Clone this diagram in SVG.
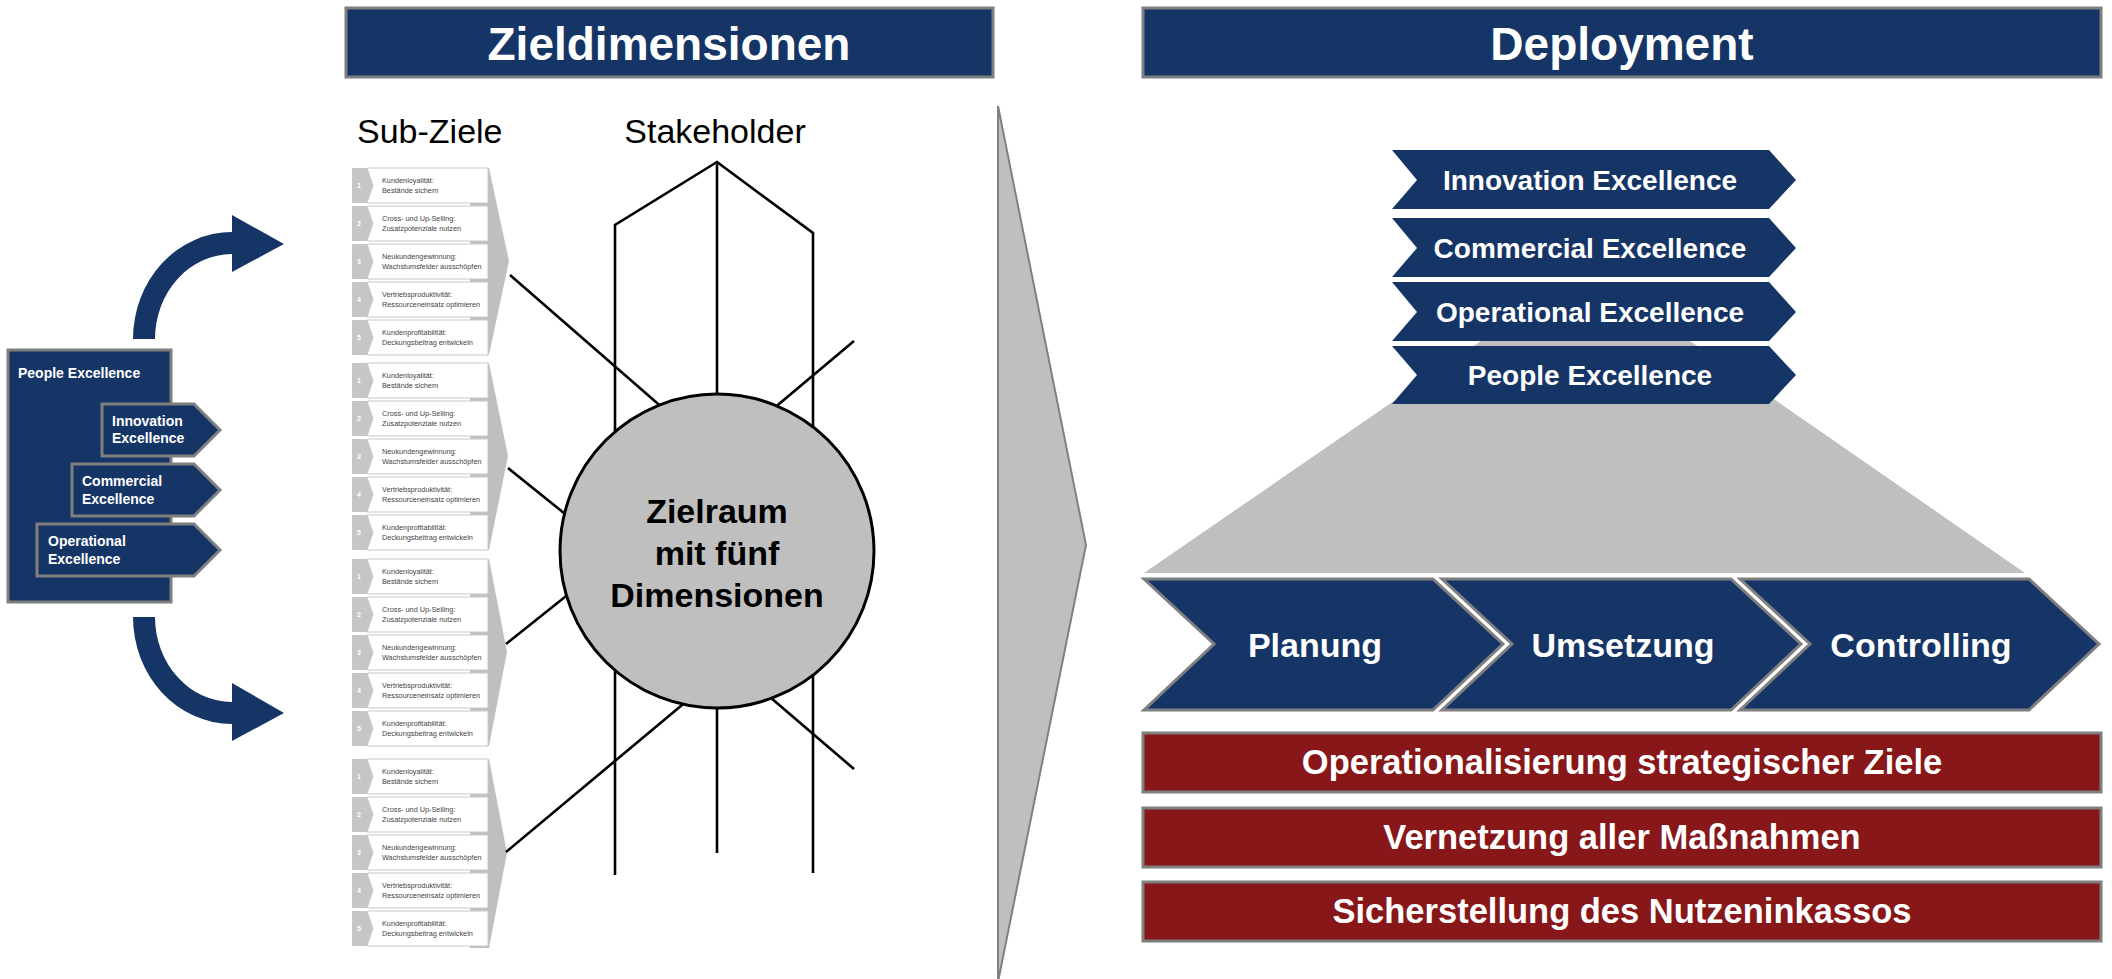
<svg xmlns="http://www.w3.org/2000/svg" width="2112" height="979" viewBox="0 0 2112 979">
<style>
.navy{fill:#163567;stroke:#7f7f7f;stroke-width:3}
.navyn{fill:#163567}
.red{fill:#871719;stroke:#7f7f7f;stroke-width:3}
.gray{fill:#bfbfbf}
.t{font-family:"Liberation Sans",Arial,sans-serif}
.wb{font-family:"Liberation Sans",Arial,sans-serif;font-weight:bold;fill:#fff}
.hd{font-size:46px;text-anchor:middle}
.ch{font-size:28px;text-anchor:middle}
.pr{font-size:34px;text-anchor:middle}
.rb{font-size:34.5px;text-anchor:middle}
.sm{font-size:14px}
.ln{stroke:#000;stroke-width:2.6;fill:none}
.tab{fill:#c6c6c6}
.row{fill:#fff;stroke:#c8c8c8;stroke-width:1}
.rt{font-family:"Liberation Sans",Arial,sans-serif;font-size:7.3px;fill:#444}
.num{font-family:"Liberation Sans",Arial,sans-serif;font-size:7px;fill:#fff;font-weight:bold;text-anchor:middle}
</style>

<!-- Headers -->
<g id="header-zieldimensionen">
<rect class="navy" x="346" y="8" width="647" height="69"/>
<text class="wb hd" x="669" y="60">Zieldimensionen</text>
</g>
<g id="header-deployment">
<rect class="navy" x="1143" y="8" width="958" height="69"/>
<text class="wb hd" x="1622" y="60">Deployment</text>
</g>

<!-- Left: People Excellence box with curved arrows -->
<g id="arrow-up">
<path class="navyn" d="M133,339 A99,107 0 0 1 232,232 L232,215 L284,244 L232,272 L232,254 A77,85 0 0 0 155,339 Z"/>
</g>
<g id="arrow-down">
<path class="navyn" d="M133,617 A99,107 0 0 0 232,724 L232,741 L284,713 L232,683 L232,702 A77,85 0 0 1 155,617 Z"/>
</g>
<g id="people-excellence-box">
<rect class="navy" x="8" y="350" width="163" height="252"/>
<text class="wb sm" x="18" y="378">People Excellence</text>
</g>
<g id="left-innovation">
<polygon class="navy" points="102,404 194,404 220,430 194,456 102,456"/>
<text class="wb sm" x="112" y="426">Innovation</text>
<text class="wb sm" x="112" y="443">Excellence</text>
</g>
<g id="left-commercial">
<polygon class="navy" points="72,464 194,464 220,490 194,516 72,516"/>
<text class="wb sm" x="82" y="486">Commercial</text>
<text class="wb sm" x="82" y="504">Excellence</text>
</g>
<g id="left-operational">
<polygon class="navy" points="37,524 194,524 220,550 194,576 37,576"/>
<text class="wb sm" x="48" y="546">Operational</text>
<text class="wb sm" x="48" y="564">Excellence</text>
</g>

<!-- Sub-Ziele / Stakeholder labels -->
<text class="t" x="357" y="143" font-size="34">Sub-Ziele</text>
<text class="t" x="715" y="143" font-size="34" text-anchor="middle">Stakeholder</text>

<!-- Sub-Ziele blocks -->
<g id="subziele-1">
<polygon class="gray" points="470,168 489,168 509,261 489,355 470,355"/>
<polygon class="tab" points="352,168 367,168 373,185.5 367,203 352,203"/>
<polygon class="row" points="367,168 488,168 488,203 367,203 373,185.5"/>
<text class="num" x="359" y="188">1</text>
<text class="rt" x="382" y="183">Kundenloyalität:</text><text class="rt" x="382" y="193">Bestände sichern</text>
<polygon class="tab" points="352,206 367,206 373,223.5 367,241 352,241"/>
<polygon class="row" points="367,206 488,206 488,241 367,241 373,223.5"/>
<text class="num" x="359" y="226">2</text>
<text class="rt" x="382" y="221">Cross- und Up-Selling:</text><text class="rt" x="382" y="231">Zusatzpotenziale nutzen</text>
<polygon class="tab" points="352,244 367,244 373,261.5 367,279 352,279"/>
<polygon class="row" points="367,244 488,244 488,279 367,279 373,261.5"/>
<text class="num" x="359" y="264">3</text>
<text class="rt" x="382" y="259">Neukundengewinnung:</text><text class="rt" x="382" y="269">Wachstumsfelder ausschöpfen</text>
<polygon class="tab" points="352,282 367,282 373,299.5 367,317 352,317"/>
<polygon class="row" points="367,282 488,282 488,317 367,317 373,299.5"/>
<text class="num" x="359" y="302">4</text>
<text class="rt" x="382" y="297">Vertriebsproduktivität:</text><text class="rt" x="382" y="307">Ressourceneinsatz optimieren</text>
<polygon class="tab" points="352,320 367,320 373,337.5 367,355 352,355"/>
<polygon class="row" points="367,320 488,320 488,355 367,355 373,337.5"/>
<text class="num" x="359" y="340">5</text>
<text class="rt" x="382" y="335">Kundenprofitabilität:</text><text class="rt" x="382" y="345">Deckungsbeitrag entwickeln</text>
</g>

<g id="subziele-2">
<polygon class="gray" points="470,363 489,363 508,456 489,550 470,550"/>
<polygon class="tab" points="352,363 367,363 373,380.5 367,398 352,398"/>
<polygon class="row" points="367,363 488,363 488,398 367,398 373,380.5"/>
<text class="num" x="359" y="383">1</text>
<text class="rt" x="382" y="378">Kundenloyalität:</text><text class="rt" x="382" y="388">Bestände sichern</text>
<polygon class="tab" points="352,401 367,401 373,418.5 367,436 352,436"/>
<polygon class="row" points="367,401 488,401 488,436 367,436 373,418.5"/>
<text class="num" x="359" y="421">2</text>
<text class="rt" x="382" y="416">Cross- und Up-Selling:</text><text class="rt" x="382" y="426">Zusatzpotenziale nutzen</text>
<polygon class="tab" points="352,439 367,439 373,456.5 367,474 352,474"/>
<polygon class="row" points="367,439 488,439 488,474 367,474 373,456.5"/>
<text class="num" x="359" y="459">3</text>
<text class="rt" x="382" y="454">Neukundengewinnung:</text><text class="rt" x="382" y="464">Wachstumsfelder ausschöpfen</text>
<polygon class="tab" points="352,477 367,477 373,494.5 367,512 352,512"/>
<polygon class="row" points="367,477 488,477 488,512 367,512 373,494.5"/>
<text class="num" x="359" y="497">4</text>
<text class="rt" x="382" y="492">Vertriebsproduktivität:</text><text class="rt" x="382" y="502">Ressourceneinsatz optimieren</text>
<polygon class="tab" points="352,515 367,515 373,532.5 367,550 352,550"/>
<polygon class="row" points="367,515 488,515 488,550 367,550 373,532.5"/>
<text class="num" x="359" y="535">5</text>
<text class="rt" x="382" y="530">Kundenprofitabilität:</text><text class="rt" x="382" y="540">Deckungsbeitrag entwickeln</text>
</g>

<g id="subziele-3">
<polygon class="gray" points="470,559 489,559 507,652 489,746 470,746"/>
<polygon class="tab" points="352,559 367,559 373,576.5 367,594 352,594"/>
<polygon class="row" points="367,559 488,559 488,594 367,594 373,576.5"/>
<text class="num" x="359" y="579">1</text>
<text class="rt" x="382" y="574">Kundenloyalität:</text><text class="rt" x="382" y="584">Bestände sichern</text>
<polygon class="tab" points="352,597 367,597 373,614.5 367,632 352,632"/>
<polygon class="row" points="367,597 488,597 488,632 367,632 373,614.5"/>
<text class="num" x="359" y="617">2</text>
<text class="rt" x="382" y="612">Cross- und Up-Selling:</text><text class="rt" x="382" y="622">Zusatzpotenziale nutzen</text>
<polygon class="tab" points="352,635 367,635 373,652.5 367,670 352,670"/>
<polygon class="row" points="367,635 488,635 488,670 367,670 373,652.5"/>
<text class="num" x="359" y="655">3</text>
<text class="rt" x="382" y="650">Neukundengewinnung:</text><text class="rt" x="382" y="660">Wachstumsfelder ausschöpfen</text>
<polygon class="tab" points="352,673 367,673 373,690.5 367,708 352,708"/>
<polygon class="row" points="367,673 488,673 488,708 367,708 373,690.5"/>
<text class="num" x="359" y="693">4</text>
<text class="rt" x="382" y="688">Vertriebsproduktivität:</text><text class="rt" x="382" y="698">Ressourceneinsatz optimieren</text>
<polygon class="tab" points="352,711 367,711 373,728.5 367,746 352,746"/>
<polygon class="row" points="367,711 488,711 488,746 367,746 373,728.5"/>
<text class="num" x="359" y="731">5</text>
<text class="rt" x="382" y="726">Kundenprofitabilität:</text><text class="rt" x="382" y="736">Deckungsbeitrag entwickeln</text>
</g>

<g id="subziele-4">
<polygon class="gray" points="470,759 489,759 507,853 489,948 470,948"/>
<polygon class="tab" points="352,759 367,759 373,776.5 367,794 352,794"/>
<polygon class="row" points="367,759 488,759 488,794 367,794 373,776.5"/>
<text class="num" x="359" y="779">1</text>
<text class="rt" x="382" y="774">Kundenloyalität:</text><text class="rt" x="382" y="784">Bestände sichern</text>
<polygon class="tab" points="352,797 367,797 373,814.5 367,832 352,832"/>
<polygon class="row" points="367,797 488,797 488,832 367,832 373,814.5"/>
<text class="num" x="359" y="817">2</text>
<text class="rt" x="382" y="812">Cross- und Up-Selling:</text><text class="rt" x="382" y="822">Zusatzpotenziale nutzen</text>
<polygon class="tab" points="352,835 367,835 373,852.5 367,870 352,870"/>
<polygon class="row" points="367,835 488,835 488,870 367,870 373,852.5"/>
<text class="num" x="359" y="855">3</text>
<text class="rt" x="382" y="850">Neukundengewinnung:</text><text class="rt" x="382" y="860">Wachstumsfelder ausschöpfen</text>
<polygon class="tab" points="352,873 367,873 373,890.5 367,908 352,908"/>
<polygon class="row" points="367,873 488,873 488,908 367,908 373,890.5"/>
<text class="num" x="359" y="893">4</text>
<text class="rt" x="382" y="888">Vertriebsproduktivität:</text><text class="rt" x="382" y="898">Ressourceneinsatz optimieren</text>
<polygon class="tab" points="352,911 367,911 373,928.5 367,946 352,946"/>
<polygon class="row" points="367,911 488,911 488,946 367,946 373,928.5"/>
<text class="num" x="359" y="931">5</text>
<text class="rt" x="382" y="926">Kundenprofitabilität:</text><text class="rt" x="382" y="936">Deckungsbeitrag entwickeln</text>
</g>

<!-- Connectors -->
<g id="connectors">
<polyline class="ln" points="615,875 615,225 717,162 813,233 813,873"/>
<line class="ln" x1="717" y1="164" x2="717" y2="853"/>
<line class="ln" x1="510" y1="275" x2="680" y2="423"/>
<line class="ln" x1="508" y1="468" x2="590" y2="534"/>
<line class="ln" x1="506" y1="644" x2="590" y2="577"/>
<line class="ln" x1="506" y1="852" x2="700" y2="690"/>
<line class="ln" x1="854" y1="341" x2="760" y2="420"/>
<line class="ln" x1="854" y1="769" x2="750" y2="680"/>
</g>

<g id="zielraum">
<circle cx="717" cy="551" r="157" fill="#bfbfbf" stroke="#000" stroke-width="3"/>
<text class="t" x="717" y="523" font-size="34" font-weight="bold" text-anchor="middle">Zielraum</text>
<text class="t" x="717" y="565" font-size="34" font-weight="bold" text-anchor="middle">mit fünf</text>
<text class="t" x="717" y="607" font-size="34" font-weight="bold" text-anchor="middle">Dimensionen</text>
</g>

<!-- Big transition arrow -->
<g id="transition-arrow">
<polygon points="998,106 1086,545 998,982" fill="#bfbfbf" stroke="#808080" stroke-width="2"/>
</g>

<!-- Deployment -->
<g id="funnel">
<polygon class="gray" points="1481,341 1690,341 2025,573 1144,573"/>
</g>
<g id="dep-innovation">
<polygon class="navyn" points="1392,150 1769,150 1796,180 1769,209 1392,209 1417,180"/>
<text class="wb ch" x="1590" y="190">Innovation Excellence</text>
</g>
<g id="dep-commercial">
<polygon class="navyn" points="1392,218 1769,218 1796,248 1769,277 1392,277 1417,248"/>
<text class="wb ch" x="1590" y="258">Commercial Excellence</text>
</g>
<g id="dep-operational">
<polygon class="navyn" points="1392,282 1769,282 1796,312 1769,341 1392,341 1417,312"/>
<text class="wb ch" x="1590" y="322">Operational Excellence</text>
</g>
<g id="dep-people">
<polygon class="navyn" points="1392,346 1769,346 1796,375 1769,404 1392,404 1417,375"/>
<text class="wb ch" x="1590" y="385">People Excellence</text>
</g>

<g id="planung">
<polygon class="navy" points="1144,579 1433,579 1503,644 1433,710 1144,710 1214,644"/>
<text class="wb pr" x="1315" y="657">Planung</text>
</g>
<g id="umsetzung">
<polygon class="navy" points="1442,579 1731,579 1801,644 1731,710 1442,710 1512,644"/>
<text class="wb pr" x="1623" y="657">Umsetzung</text>
</g>
<g id="controlling">
<polygon class="navy" points="1740,579 2029,579 2099,644 2029,710 1740,710 1810,644"/>
<text class="wb pr" x="1921" y="657">Controlling</text>
</g>

<g id="bar-1">
<rect class="red" x="1143" y="733" width="958" height="59"/>
<text class="wb rb" x="1622" y="774">Operationalisierung strategischer Ziele</text>
</g>
<g id="bar-2">
<rect class="red" x="1143" y="808" width="958" height="59"/>
<text class="wb rb" x="1622" y="849">Vernetzung aller Maßnahmen</text>
</g>
<g id="bar-3">
<rect class="red" x="1143" y="882" width="958" height="59"/>
<text class="wb rb" x="1622" y="923">Sicherstellung des Nutzeninkassos</text>
</g>
</svg>
